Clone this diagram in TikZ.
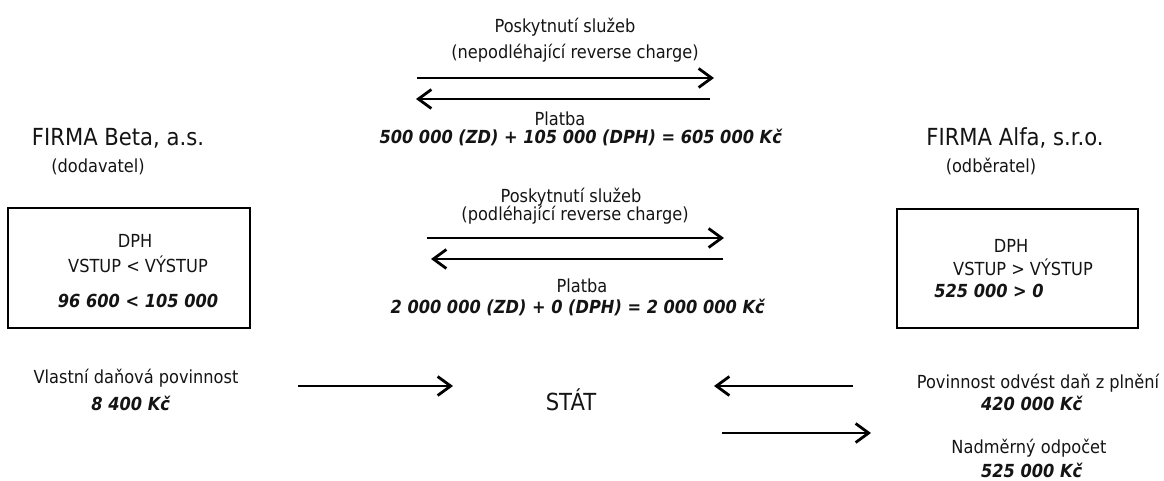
\documentclass[tikz,border=0pt]{standalone}
\usepackage{fontspec}
\setmainfont{DejaVu Sans}[FakeStretch=0.9]
\usetikzlibrary{arrows.meta}
\definecolor{ink}{HTML}{141414}
\newcommand\amt[1]{\textbf{\textit{#1}}}
\tikzset{
  lbl/.style={anchor=base, inner sep=0pt, text=ink, font=\fontsize{18}{20}\selectfont},
  big/.style={anchor=base, inner sep=0pt, text=ink, font=\fontsize{23.5}{26}\selectfont},
  flow/.style={draw=black, line width=2.8pt,
    -{Straight Barb[length=13pt, width=19pt, line width=2.8pt]}},
  vatbox/.style={draw=black, line width=2.8pt, inner sep=0pt}
}
\begin{document}
\begin{tikzpicture}[x=1pt, y=-1pt]
\useasboundingbox (0,0) rectangle (1164,480);

% upper exchange: services without reverse charge
\node[lbl] (s1a) at (565,32) {Poskytnutí služeb};
\node[lbl] (s1b) at (575,58) {(nepodléhající reverse charge)};
\coordinate (a1s) at (417,78);  \coordinate (a1e) at (714,78);
\coordinate (a2s) at (710,99);  \coordinate (a2e) at (416,99);
\draw[flow] (a1s) -- (a1e);
\draw[flow] (a2s) -- (a2e);
\node[lbl] (p1a) at (560,125) {Platba};
\node[lbl] (p1b) at (581,143) {\amt{500 000 (ZD) + 105 000 (DPH) = 605 000 Kč}};

% supplier
\node[big] (beta) at (118,145) {FIRMA Beta, a.s.};
\node[lbl] (dod) at (98,172) {(dodavatel)};
\node[vatbox, minimum width=242pt, minimum height=120pt] (boxL) at (129,268) {};
\node[lbl] (dphL) at (135,247) {DPH};
\node[lbl] (cmpL) at (138,272) {VSTUP < VÝSTUP};
\node[lbl] (valL) at (138,307) {\amt{96 600 < 105 000}};

% customer
\node[big] (alfa) at (1015,145) {FIRMA Alfa, s.r.o.};
\node[lbl] (odb) at (991,172) {(odběratel)};
\node[vatbox, minimum width=241pt, minimum height=119pt] (boxR) at (1017.5,268.5) {};
\node[lbl] (dphR) at (1011,252) {DPH};
\node[lbl] (cmpR) at (1023,275) {VSTUP > VÝSTUP};
\node[lbl] (valR) at (989,297) {\amt{525 000 > 0}};

% middle exchange: services under reverse charge
\node[lbl] (s2a) at (571,202) {Poskytnutí služeb};
\node[lbl] (s2b) at (575,220) {(podléhající reverse charge)};
\coordinate (b1s) at (427,238); \coordinate (b1e) at (724,238);
\coordinate (b2s) at (723,259); \coordinate (b2e) at (431,259);
\draw[flow] (b1s) -- (b1e);
\draw[flow] (b2s) -- (b2e);
\node[lbl] (p2a) at (582,292) {Platba};
\node[lbl] (p2b) at (578,313) {\amt{2 000 000 (ZD) + 0 (DPH) = 2 000 000 Kč}};

% state
\node[big] (stat) at (571,410) {STÁT};

% supplier pays to the state
\node[lbl] (vdp) at (136,383) {Vlastní daňová povinnost};
\node[lbl] (vdpv) at (131,410) {\amt{8 400 Kč}};
\coordinate (c1s) at (298,386); \coordinate (c1e) at (453,386);
\draw[flow] (c1s) -- (c1e);

% customer and the state
\coordinate (d1s) at (853,386); \coordinate (d1e) at (714,386);
\draw[flow] (d1s) -- (d1e);
\coordinate (d2s) at (722,433); \coordinate (d2e) at (871,433);
\draw[flow] (d2s) -- (d2e);
\node[lbl] (pov) at (1038,388) {Povinnost odvést daň z plnění};
\node[lbl] (povv) at (1032,410) {\amt{420 000 Kč}};
\node[lbl] (nad) at (1029,453) {Nadměrný odpočet};
\node[lbl] (nadv) at (1032,477) {\amt{525 000 Kč}};
\end{tikzpicture}
\end{document}
